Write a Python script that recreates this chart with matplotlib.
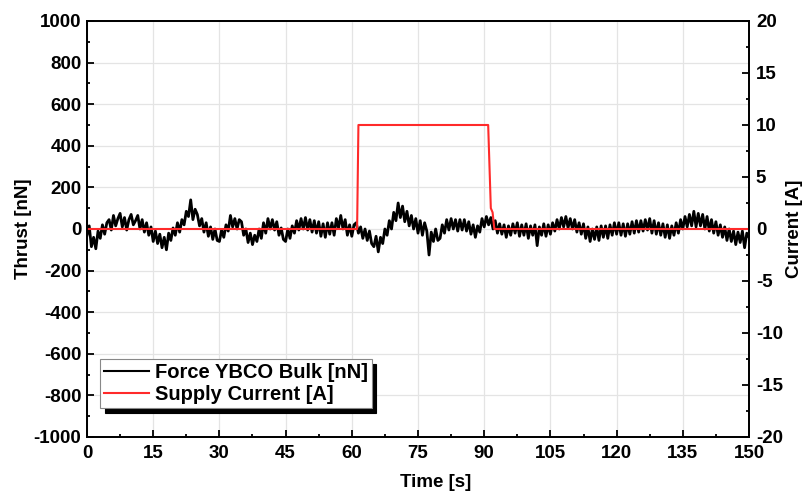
import numpy as np
import matplotlib.pyplot as plt
from matplotlib.ticker import MultipleLocator
from matplotlib.patches import Shadow

force_t = np.arange(0, 150.5, 0.5)
force = [
    -30, 15, -85, -40, -95, -10, -45, 20, -25, 30,
    45, -5, 65, 15, 50, 75, 10, 55, -5, 45,
    70, 20, 40, 65, 0, 45, -15, 30, -30, 10,
    -60, -10, -70, -25, -90, -40, -100, -20, -55, 5,
    -30, 30, -15, 45, 20, 85, 60, 140, 45, 95,
    70, 15, 50, -15, 30, -35, 10, -50, 0, -55,
    -60, -5, -40, 20, -10, 65, 10, 50, 0, 45,
    35, -30, 0, -65, -20, -75, -30, -60, 0, -45,
    30, -20, 50, 0, 45, -5, 35, -30, 5, -50,
    -60, 0, -45, 15, -20, 40, -5, 50, 0, 55,
    -5, 45, -15, 40, -20, 35, -35, 25, -40, 30,
    -25, 30, -30, 50, 5, 65, 0, 45, -30, 20,
    -35, 20, 30, -20, 10, -45, 0, -55, -10, -70,
    -85, -35, -110, -40, -70, 0, -30, 40, 0, 80,
    40, 125, 55, 110, 35, 85, 15, 65, 0, 50,
    -20, 40, -30, 30, -10, -125, -15, -60, 0, -55,
    -45, 20, -20, 45, -5, 50, 0, 45, -10, 45,
    -5, 45, -10, 35, -25, 20, -40, 15, -15, 50,
    10, 60, 20, 55, 0, 40, -20, 25, -25, 20,
    -40, 15, -30, 25, -20, 30, -35, 20, -30, 25,
    -45, 15, -30, 20, -80, 10, -30, 25, -35, 20,
    -25, 30, -10, 45, 0, 55, 10, 60, 5, 50,
    0, 45, -15, 30, -25, 25, -45, 10, -60, 0,
    -50, 10, -55, 15, -40, 15, -45, 20, -30, 30,
    -25, 30, -30, 25, -35, 25, -25, 35, -20, 40,
    -15, 40, -10, 45, -5, 50, -20, 40, -25, 30,
    -30, 25, -40, 20, -45, 15, -30, 30, -20, 45,
    0, 60, 10, 70, 15, 85, 10, 75, 15, 70,
    0, 60, -10, 45, -20, 35, -30, 20, -40, 10,
    -55, 0, -60, -10, -75, -15, -65, -10, -90, -20,
    -40,
]

# supply current
current_t = [0, 61.2, 61.5, 90.9, 91.5, 91.9, 92.3, 150]
current = [0, 0, 10, 10, 2, 1.6, 0, 0]

plt.rcParams['font.family'] = ['Liberation Sans', 'DejaVu Sans']
plt.rcParams['font.weight'] = 'bold'
plt.rcParams['axes.unicode_minus'] = False
fs = 13.5

fig = plt.figure(figsize=(8.1, 4.94), dpi=100)
ax = fig.add_axes([0.1074, 0.1154, 0.8173, 0.8421])
ax2 = ax.twinx()

l1, = ax.plot(force_t, force, color='black', lw=2.0)
l2, = ax2.plot(current_t, current, color='#ff2a2a', lw=1.5)

ax.set_xlim(0, 150)
ax.set_ylim(-1000, 1000)
ax2.set_ylim(-20, 20)
ax.xaxis.set_major_locator(MultipleLocator(15))
ax.xaxis.set_minor_locator(MultipleLocator(7.5))
ax.yaxis.set_major_locator(MultipleLocator(200))
ax.yaxis.set_minor_locator(MultipleLocator(100))
ax2.yaxis.set_major_locator(MultipleLocator(5))
ax2.yaxis.set_minor_locator(MultipleLocator(2.5))

ax.grid(True, which='major', color='#e4e4e4', lw=0.9)
ax.set_axisbelow(True)

for a in (ax, ax2):
    a.tick_params(which='major', direction='in', length=5, width=1.3, labelsize=fs, pad=4)
    a.tick_params(which='minor', direction='in', length=2.5, width=1.3)
    for s in a.spines.values():
        s.set_linewidth(1.3)
ax.tick_params(axis='both', which='both', top=False, right=False)
ax.tick_params(axis='x', pad=6)
ax2.tick_params(axis='y', which='both', left=False, pad=5)

ax.set_xlabel('Time [s]', fontsize=fs, fontweight='bold')
ax.xaxis.set_label_coords(0.527, -0.09)
ax.set_ylabel('Thrust [nN]', fontsize=fs, fontweight='bold', labelpad=1)
ax2.set_ylabel('Current [A]', fontsize=fs, fontweight='bold', labelpad=2)

leg = ax2.legend([l1, l2], ['Force YBCO Bulk [nN]', 'Supply Current [A]'],
                 loc='lower left', bbox_to_anchor=(0.02, 0.07), borderaxespad=0,
                 fontsize=14.5, handlelength=2.2, handletextpad=0.3,
                 borderpad=0.2, labelspacing=0.15, fancybox=False)
leg.get_frame().set_edgecolor('#888888')
leg.get_frame().set_linewidth(0.8)
leg.get_frame().set_alpha(1)
for line in leg.get_lines():
    line.set_linewidth(1.5)

# Origin-style solid shadow behind the legend box
fig.canvas.draw()
shadow = Shadow(leg.legendPatch, 3.5, -3.5, color='black', alpha=1)
shadow.set_zorder(leg.get_zorder() - 0.1)
ax2.add_artist(shadow)

fig.savefig('out.png', dpi=100)
